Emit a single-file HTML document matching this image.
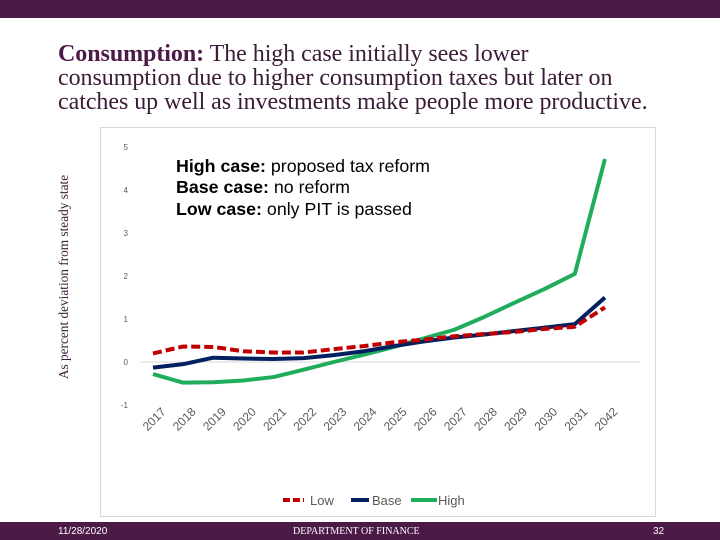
<!DOCTYPE html>
<html><head><meta charset="utf-8"><style>
body{margin:0;width:720px;height:540px;background:#fff;position:relative;overflow:hidden;font-family:"Liberation Sans",sans-serif}
.bar{position:absolute;left:0;width:720px;background:#4b1a47}
#title{position:absolute;left:58px;top:42px;font-family:"Liberation Serif",serif;font-size:24px;line-height:24px;color:#3a1b38;letter-spacing:-0.05px}
#title b{color:#4b1a47}
.ft{position:absolute;top:526px;font-size:10px;color:#fff}
</style></head><body>
<div class="bar" style="top:0;height:18px"></div>
<div id="title"><b>Consumption:</b> The high case initially sees lower<br>consumption due to higher consumption taxes but later on<br>catches up well as investments make people more productive.</div>
<svg width="720" height="540" style="position:absolute;left:0;top:0" id="chart">
<rect x="100.5" y="127.5" width="555" height="389" fill="none" stroke="#d9d9d9"/>
<text x="0" y="0" transform="translate(68,277) rotate(-90)" text-anchor="middle" font-family="Liberation Serif,serif" font-size="13.3" fill="#3a1b38">As percent deviation from steady state</text>
<text x="176" y="172" font-size="17.8" fill="#000"><tspan font-weight="bold">High case:</tspan> proposed tax reform</text>
<text x="176" y="193" font-size="17.8" fill="#000"><tspan font-weight="bold">Base case:</tspan> no reform</text>
<text x="176" y="215" font-size="17.8" fill="#000"><tspan font-weight="bold">Low case:</tspan> only PIT is passed</text>
<g id="axes"></g><g id="series"></g>
<g>
<line x1="283" y1="500" x2="304" y2="500" stroke="#c00000" stroke-width="4" stroke-dasharray="7,3"/>
<text x="310" y="505" font-size="13" fill="#595959">Low</text>
<line x1="351" y1="500" x2="369" y2="500" stroke="#002060" stroke-width="4"/>
<text x="372" y="505" font-size="13" fill="#595959">Base</text>
<line x1="411" y1="500" x2="437" y2="500" stroke="#1fad5b" stroke-width="4"/>
<text x="438" y="505" font-size="13" fill="#595959">High</text>
</g>
</svg>
<div class="bar" style="top:522px;height:18px"></div>
<div class="ft" style="left:58px">11/28/2020</div>
<div class="ft" style="left:293px;font-family:'Liberation Serif',serif">DEPARTMENT OF FINANCE</div>
<div class="ft" style="left:653px">32</div>
<script>
const categories=["2017","2018","2019","2020","2021","2022","2023","2024","2025","2026","2027","2028","2029","2030","2031","2042"];
const yTicks=[-1,0,1,2,3,4,5];
const highVals=[-0.28,-0.48,-0.47,-0.43,-0.35,-0.18,0,0.17,0.35,0.55,0.75,1.05,1.38,1.7,2.05,4.72];
const baseVals=[-0.13,-0.05,0.1,0.08,0.07,0.09,0.16,0.25,0.37,0.48,0.57,0.64,0.72,0.8,0.88,1.5];
const lowVals=[0.2,0.36,0.35,0.25,0.22,0.22,0.3,0.37,0.46,0.52,0.6,0.65,0.7,0.77,0.82,1.27];
const NS="http://www.w3.org/2000/svg";
const x=i=>153+i*30.13;
const y=v=>362-v*43;
const axes=document.getElementById('axes'),ser=document.getElementById('series');
function mk(tag,attrs,parent){const e=document.createElementNS(NS,tag);for(const k in attrs)e.setAttribute(k,attrs[k]);parent.appendChild(e);return e;}
const zl=mk('line',{x1:140,x2:640,y1:y(0),y2:y(0),stroke:'#d9d9d9'},axes);


yTicks.forEach(t=>{const e=mk('text',{x:128,y:y(t)+3,'text-anchor':'end','font-size':8,fill:'#595959'},axes);e.textContent=t;

});
categories.forEach((c,i)=>{const e=mk('text',{x:0,y:0,transform:`translate(${x(i)+4},${422}) rotate(-45)`,'text-anchor':'middle','font-size':12,fill:'#595959'},axes);e.textContent=c;

});
function line(vals,color,dash,name){const p=mk('polyline',{points:vals.map((v,i)=>x(i)+','+y(v)).join(' '),fill:'none',stroke:color,'stroke-width':4,'stroke-linejoin':'round'},ser);
if(dash)p.setAttribute('stroke-dasharray',dash);

}
line(highVals,'#1fad5b',null,'high-series-line');
line(baseVals,'#002060',null,'base-series-line');
line(lowVals,'#c00000','9,4','low-series-line');
</script>
</body></html>
